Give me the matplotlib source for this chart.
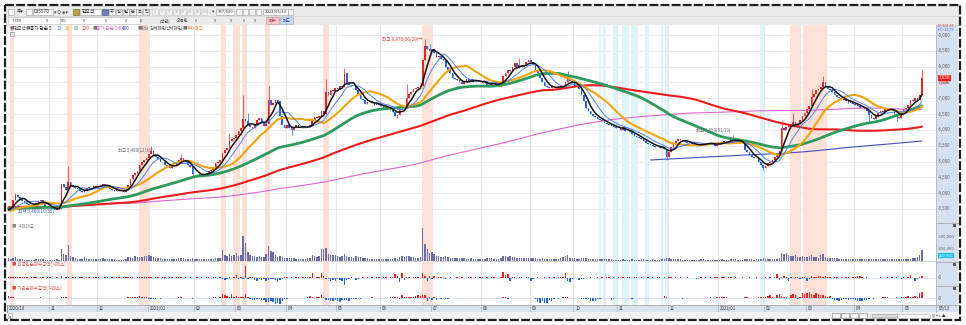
import numpy as np
import pandas as pd
import matplotlib
matplotlib.use("Agg")
import matplotlib.pyplot as plt
from matplotlib.patches import Rectangle

plt.rcParams['font.family'] = ['Noto Sans CJK KR', 'DejaVu Sans']

# ---------------- data ----------------
month_labels = ["2020/10", "11", "12", "2021/01", "02", "03", "04", "05", "06", "07",
                "08", "09", "10", "11", "12", "2022/01", "02", "03", "04", "05"]
month_days = [18, 21, 22, 20, 18, 22, 22, 19, 22, 22, 21, 19, 19, 22, 22, 20, 18, 21, 21, 9]
last_date = "05/13"

# closes before the first visible day (needed by the long moving averages)
pre_close = [
    3650,3680,3700,3720,3750,3730,3700,3690,3710,3740,3760,3780,3750,3720,3700,3680,3660,3640,3660,3690,
    3710,3730,3700,3680,3650,3630,3620,3640,3660,3700,3720,3740,3760,3730,3700,3690,3670,3650,3640,3660,
    3680,3700,3690,3670,3650,3640,3620,3600,3610,3630,3660,3690,3710,3730,3700,3680,3660,3650,3640,3660,
    3700,3720,3740,3760,3780,3750,3720,3700,3690,3680,3660,3640,3620,3610,3630,3650,3670,3690,3710,3700,
    3680,3660,3640,3630,3620,3640,3660,3680,3700,3690,3670,3650,3630,3610,3600,3620,3640,3660,3650,3640,
    3630,3620,3600,3590,3580,3600,3620,3640,3660,3650,3630,3610,3600,3590,3580,3570,3590,3610,3600,3590,
    3580,3570,3560,3580,3600,3620,3610,3590,3570,3550,3540,3560,3580,3600,3610,3590,3570,3560,3550,3540,
    3550,3570,3590,3600,3580,3560,3540,3530,3550,3570,3590,3600,3580,3560,3540,3520,3510,3530,3550,3560,
    3570,3580,3560,3540,3520,3510,3500,3520,3540,3560,3550,3530,3510,3490,3480,3500,3520,3510,3490,3470,
    3460,3450,3440,3430,3420,3440,3460,3450,3430,3420,3410,3430,3450,3440,3420,3410,3430,3450,3470,3500]

close = [
    3530,3600,3780,3950,3880,3820,3760,3700,3660,3640,3620,3650,3700,3760,3790,3680,3600,3560,
    3520,3500,3480,3530,3500,4300,4200,4100,4350,4250,4200,4150,4120,4080,4050,4060,4150,4200,4180,4220,4200,
    4220,4250,4280,4260,4240,4120,4100,4080,4100,4060,4080,4050,4100,4270,4450,4560,4650,4700,4900,4980,5050,5110,
    5250,5320,5200,5150,5080,5000,4980,4900,4850,4800,4850,4900,4950,5050,5120,5020,4980,4900,4820,4600,
    4620,4600,4580,4560,4600,4650,4700,4720,4760,4950,5000,5060,5270,5350,5430,5640,5700,5750,
    5850,5950,6060,6350,6280,6160,6100,6060,6200,6300,6380,6250,6110,6200,6950,6800,6850,6950,6900,6430,6150,6060,
    6150,6060,6000,6100,6150,6100,6080,6050,6100,6120,6160,6300,6400,6370,6430,6590,6500,7200,7110,7250,7220,7320,
    7300,7400,7350,7800,7450,7420,7400,7380,7250,7100,6980,6950,6820,6880,6900,6850,6800,6820,6780,
    6760,6700,6720,6680,6640,6560,6450,6480,6700,6720,6680,7000,7150,7200,7300,7320,7350,7400,8200,8650,8550,8500,
    8550,8420,8300,8350,8250,8200,8000,7900,7800,7650,7600,7580,7500,7450,7500,7600,7550,7600,7500,7580,7550,7500,
    7480,7550,7400,7350,7500,7520,7450,7400,7450,7700,7800,7900,7850,8000,8100,7950,8050,8000,8050,8150,8200,
    8150,8050,7900,7800,7650,7500,7400,7350,7320,7380,7350,7330,7380,7350,7400,7500,7600,7550,7480,
    7400,7350,7300,7100,6900,6700,6600,6500,6450,6420,6350,6300,6280,6220,6180,6150,6120,6100,6060,
    6050,6000,6080,5980,5950,5920,5880,5820,5780,5740,5700,5660,5600,5560,5530,5500,5470,5460,5440,5450,5400,5150,
    5300,5450,5580,5650,5700,5680,5650,5620,5600,5580,5550,5530,5500,5520,5560,5580,5560,5600,5570,5540,5500,5560,
    5600,5620,5640,5600,5650,5700,5720,5650,5620,5600,5580,5380,5300,5200,5150,5120,5100,5000,4900,4800,
    4850,4950,5000,5050,5150,5250,5320,6050,6000,6100,6200,6150,6250,6100,6200,6300,6450,6550,
    6650,6750,7050,7150,7250,7300,7350,7500,7400,7300,7250,7200,7100,7050,7000,6950,6980,6900,6850,6880,6820,
    6800,6750,6700,6680,6650,6600,6480,6380,6330,6450,6550,6600,6580,6650,6700,6680,6620,6500,6420,6380,6550,
    6650,6700,6800,6950,6900,7000,6950,7100,7650]

# visible wick extremes (day index -> price)
wick_high = {3: 4000, 26: 4850, 62: 5480, 75: 5250, 96: 5900, 102: 7110, 104: 6550, 113: 7380,
             138: 7600, 146: 7950, 173: 7450, 181: 8870, 183: 8700, 222: 8270, 243: 7850,
             315: 5850, 336: 6300, 341: 6550, 349: 7300, 354: 7700, 397: 7900}
wick_low = {1: 3460, 80: 4520, 123: 5850, 169: 6380, 286: 5060, 328: 4740, 374: 6270, 386: 6270}

# volume, thousand shares
volume = [
    60,40,70,90,50,40,35,30,30,25,25,30,35,45,50,35,30,30,
    25,25,30,35,30,260,150,120,350,110,80,60,50,45,40,90,60,50,45,50,40,
    45,50,55,45,40,40,35,35,30,30,30,30,40,80,90,70,100,90,95,85,100,110,
    120,100,80,70,60,55,50,50,45,40,40,45,50,60,70,55,50,45,45,70,
    50,45,40,40,40,45,50,45,50,70,60,60,240,120,100,150,110,130,
    180,110,120,540,390,200,130,110,100,90,100,90,80,150,325,210,200,120,90,110,80,70,
    70,60,60,55,50,50,50,45,50,60,70,130,110,90,110,270,260,280,150,140,130,120,
    110,90,100,160,110,90,80,70,100,90,80,70,60,60,50,50,45,50,45,
    45,45,40,45,40,45,60,50,90,100,80,110,100,90,80,70,70,80,720,380,270,180,
    200,150,110,100,90,90,100,80,70,70,60,60,60,55,55,50,50,55,50,50,45,45,
    45,50,60,55,60,50,45,45,55,100,110,90,100,80,90,70,70,60,60,65,60,
    60,55,60,50,50,55,50,45,45,45,40,45,50,60,90,110,120,70,60,
    55,50,45,60,70,60,50,45,40,40,40,35,35,35,40,35,35,30,30,
    30,30,35,30,30,30,35,30,30,30,35,40,30,30,30,35,30,30,30,35,45,70,
    60,50,45,40,35,35,30,30,30,30,30,30,30,30,35,35,30,30,30,30,30,30,
    30,35,30,30,30,35,40,35,30,30,30,50,40,35,35,30,35,40,45,60,
    50,45,40,40,45,50,60,180,150,170,120,110,100,130,80,90,100,80,
    90,100,120,90,80,70,130,150,80,70,60,60,55,55,50,50,45,45,45,40,40,
    40,40,40,45,40,40,45,50,50,45,40,40,40,40,40,40,40,45,40,40,45,
    40,40,50,40,70,55,90,120,250]

# foreign net buying (relative units)
foreign = [
    0.8,0.6,1.0,0.8,0.5,0.4,0.6,0.5,0.4,-0.3,0.3,0.4,0.5,-0.4,0.5,0.3,-0.3,0.4,
    0.3,-0.3,-0.4,0.3,-0.3,1.2,-0.5,0.8,0.6,-0.6,0.4,0.3,-0.4,0.3,0.5,-0.3,0.3,0.4,-0.3,0.3,0.3,
    0.3,-0.4,-0.3,0.3,0.2,-0.3,0.3,-0.3,0.2,0.3,-0.3,0.3,0.4,0.6,0.5,0.3,-0.4,0.5,0.6,0.8,0.5,0.6,
    0.8,0.5,-0.5,0.4,0.3,-0.4,0.3,0.5,-0.6,0.4,0.3,-0.3,0.4,0.5,0.6,-0.4,0.3,-0.3,0.4,-0.6,
    -0.4,0.3,-0.3,0.3,-0.4,0.3,0.3,-0.3,0.3,0.5,-0.4,0.4,-1.5,-2.0,-1.2,0.8,-0.8,0.6,
    3.0,-1.0,0.8,-1.5,11.5,-1.0,1.0,0.5,-2.0,-3.0,-1.5,-2.5,-1.0,-3.5,-2.0,-1.0,-1.5,-2.0,-4.0,-2.0,-1.0,0.5,
    0.4,-0.5,0.3,-0.4,0.3,0.5,-0.3,0.3,0.4,0.6,0.8,5.0,-0.6,1.0,0.8,5.0,2.0,-1.5,-1.0,-3.0,-2.0,-3.5,
    -1.5,-2.0,-3.0,-7.0,-2.5,-1.0,0.5,-0.8,-2.0,-1.5,-0.6,0.4,-0.5,0.6,-0.4,0.5,-0.3,0.6,0.5,
    -0.5,0.4,0.3,-0.5,0.6,0.8,4.0,2.0,-4.0,5.0,-2.0,0.6,1.0,-0.8,0.7,0.5,0.8,-0.5,5.0,1.5,-3.0,2.0,
    -1.0,1.5,-0.8,0.6,0.5,-0.8,-1.5,-0.6,0.4,-0.5,-0.4,0.3,-0.6,0.4,-0.3,-0.5,0.4,0.3,-0.4,0.3,-0.3,0.3,
    0.4,-0.3,0.3,-0.5,0.4,0.3,-0.3,-0.4,0.5,6.0,3.0,4.0,-3.0,0.8,0.6,-0.5,0.5,0.4,-0.6,0.5,0.6,
    -3.0,-1.0,-0.6,0.4,-0.8,-0.5,0.3,-0.4,0.3,-0.5,0.4,-0.3,0.5,0.8,1.0,5.0,-3.0,-4.0,-1.0,
    -0.8,-0.6,-2.0,-1.5,-1.0,-0.5,-0.6,0.4,-0.4,-0.3,0.3,-0.3,0.3,-0.4,0.3,0.4,-0.3,0.3,-0.4,
    0.3,-0.3,0.4,-0.4,0.3,0.5,-0.3,0.3,0.4,-0.5,0.3,-0.4,-0.6,0.3,-0.4,0.3,-0.3,0.3,0.4,-0.5,0.6,-0.8,
    0.6,0.5,-0.4,0.3,-0.3,0.4,-0.5,-0.4,0.3,-0.4,-0.6,-0.8,-1.0,-0.5,0.3,-0.3,0.4,-0.3,0.3,-0.4,0.3,0.4,
    -0.3,0.4,0.3,-0.4,0.5,0.6,-0.3,0.3,-0.4,-0.3,0.3,-0.5,-0.6,0.3,-0.4,-0.5,0.3,-0.4,-0.5,-0.3,
    0.4,-0.5,0.3,-0.3,0.5,4.0,-2.5,1.0,2.0,0.8,-3.0,0.5,-0.6,0.4,0.8,-1.0,0.5,0.6,
    -3.0,-1.0,2.0,1.0,0.8,2.0,1.5,0.8,1.2,0.6,0.5,-0.4,0.6,0.4,-0.5,0.4,-0.3,0.5,0.6,-0.4,0.3,
    0.4,2.0,1.8,0.6,-0.5,0.4,-0.6,-0.8,-0.5,-0.6,-0.4,0.3,-0.5,-0.4,0.3,-0.4,0.3,-0.3,0.4,-0.5,-1.5,
    0.5,-0.6,0.8,3.0,-0.8,-3.0,-1.0,1.0,2.0]

# institutional net buying (relative units)
inst = [
    2.0,1.5,1.0,0.5,0.3,-0.3,0.3,0.4,-0.3,-0.3,0.3,0.5,0.4,-0.3,0.6,0.3,-0.4,0.3,
    -0.3,0.3,-0.3,0.3,0.5,0.8,0.6,1.0,0.4,-0.4,0.3,0.5,-0.3,0.3,0.4,-0.3,0.3,0.4,0.3,-0.3,0.3,
    0.3,-0.3,0.4,0.3,-0.3,0.3,0.5,-0.3,0.3,0.4,0.3,0.5,0.4,1.0,0.8,1.5,0.6,1.0,2.0,1.5,1.0,0.8,
    -1.0,-0.8,-1.2,-0.6,0.4,-0.5,0.3,0.4,-0.4,0.3,-0.3,0.5,0.4,0.6,0.8,-0.4,0.3,-0.3,0.4,-0.5,
    0.3,-0.4,0.3,0.4,-0.3,0.3,0.5,0.4,0.6,0.8,0.5,1.0,4.0,3.5,2.0,1.0,4.0,1.5,
    2.0,0.8,1.5,1.0,4.0,1.5,-1.0,-2.0,-1.5,-0.8,-0.6,-1.5,-2.0,-4.0,-3.5,-3.0,-4.0,-6.0,-5.0,-6.0,-3.0,-1.0,
    -0.5,0.4,-0.3,0.3,0.4,-0.3,0.3,0.5,0.4,0.6,2.0,1.0,0.5,0.8,0.6,3.0,1.0,-1.5,-2.0,-3.0,-2.5,-2.0,
    -3.0,-4.0,-2.0,-1.5,-2.0,-3.0,-1.0,-0.5,-0.8,0.4,-0.5,0.5,0.3,-0.4,0.4,0.6,0.5,-0.4,0.3,
    0.4,0.5,-0.3,0.4,0.6,0.8,1.5,1.0,-0.8,3.0,1.0,0.8,1.0,1.2,0.6,2.5,3.0,2.0,3.0,3.5,-3.0,1.0,
    -2.0,0.6,-1.5,0.5,-0.8,0.4,-0.6,-0.5,0.3,0.5,-0.3,0.4,0.3,-0.4,0.5,0.3,-0.3,0.4,0.3,0.5,-0.4,0.3,
    0.3,-0.3,0.4,0.5,-0.4,0.3,0.4,-0.3,0.3,0.8,0.6,-0.5,0.4,0.3,0.5,0.4,-0.3,0.3,0.4,0.3,-0.4,
    0.3,-0.4,-0.6,-4.0,-5.0,-3.0,-4.5,-5.0,-2.0,-3.0,-1.0,0.4,-0.5,0.3,0.6,1.0,0.8,-0.4,0.3,
    0.5,-0.4,0.3,-0.5,-1.0,-0.8,-0.6,-3.0,-2.5,-3.0,-1.0,-0.5,-0.4,0.3,-0.3,-0.4,-2.0,-0.5,-0.3,
    -0.3,0.3,-0.4,-0.3,0.3,-0.4,-0.5,0.3,-0.3,-0.4,0.3,-0.3,0.4,-0.3,0.3,-0.4,0.3,-0.3,0.4,0.5,2.0,0.6,
    0.5,0.4,-0.3,0.4,0.3,-0.3,-0.6,0.3,-0.4,0.3,0.4,-0.3,0.3,0.5,0.4,-0.3,0.4,0.3,0.6,0.5,0.4,0.6,
    1.0,0.8,1.2,0.6,0.5,0.4,-0.3,0.3,0.4,-0.3,0.3,0.6,0.8,0.5,0.4,-0.3,0.3,0.6,0.8,1.0,
    1.5,2.5,3.0,1.0,0.5,3.5,4.0,2.0,0.8,1.0,0.5,3.0,4.0,3.0,-0.8,1.0,5.0,4.5,
    5.0,6.0,4.5,3.0,5.0,4.0,3.0,3.5,2.0,1.0,2.0,-1.0,-2.0,-1.5,-2.5,-2.0,-1.0,-0.8,-1.5,-1.0,-0.6,
    -2.0,-3.0,-2.5,-3.0,-2.0,-1.5,-0.6,0.4,-0.5,0.3,-0.4,0.5,0.6,1.0,0.8,0.5,0.4,0.3,0.6,0.5,0.8,
    0.6,1.0,2.0,0.8,1.5,2.5,1.0,5.0,6.5]

# signal day ranges (first day, last day)
warn_days = [(1, 2), (26, 27), (57, 61), (93, 94), (98, 98), (99, 100), (102, 103), (112, 113),
             (137, 139), (180, 184), (340, 344), (346, 355)]
rsi_days = [(257, 257), (259, 259), (263, 264), (267, 269), (271, 273), (277, 278), (284, 284),
            (286, 286), (327, 328)]

ma_periods = [5, 10, 20, 60, 120, 240, 480]
ma_colors = ['#111111', '#4c82ee', '#f0a410', '#2f9a5e', '#ee1b1b', '#e063d6', '#3f4fbf']
ma_widths = [1.1, 0.7, 1.5, 2.0, 1.5, 0.8, 0.8]
price_ticks = [3500, 4000, 4500, 5000, 5500, 6000, 6500, 7000, 7500, 8000, 8500, 9000]
vol_ticks = [250, 500]

assert len(close) == sum(month_days) == len(volume) == len(foreign) == len(inst), \
    (len(close), len(volume), len(foreign), len(inst))

n = len(close)
idx = np.arange(n)
full = pd.Series(pre_close + close, dtype=float)
npre = len(pre_close)
opens = np.array(full.shift(1).iloc[npre:])
closes = np.array(close, dtype=float)
highs = np.maximum(opens, closes)
lows = np.minimum(opens, closes)
for k, v in wick_high.items():
    highs[k] = max(highs[k], v)
for k, v in wick_low.items():
    lows[k] = min(lows[k], v)
month_start = np.concatenate([[0], np.cumsum(month_days)[:-1]])

# ---------------- figure ----------------
W, H = 966, 325
fig = plt.figure(figsize=(W / 100, H / 100), dpi=100)
fig.patch.set_facecolor('white')


def px_axes(x0, y0, x1, y1, z=1):
    a = fig.add_axes([x0 / W, 1 - y1 / H, (x1 - x0) / W, (y1 - y0) / H])
    a.set_zorder(z)
    return a


bg = px_axes(0, 0, W, H, z=0)
bg.set_xlim(0, W)
bg.set_ylim(H, 0)
bg.axis('off')

# toolbar
bg.add_patch(Rectangle((6, 6), 954, 19, fc='#ebebeb', ec='none'))
bg.plot([6, 960], [16.3, 16.3], color='#d4d4d4', lw=0.5)
bg.plot([6, 960], [24.6, 24.6], color='#c8c8c8', lw=0.6)
tb_font = 3.4


def box(x, y, w, h, fc='white', ec='#9a9a9a', lw=0.4):
    bg.add_patch(Rectangle((x, y), w, h, fc=fc, ec=ec, lw=lw))


box(8, 8.5, 6, 6)
bg.text(17, 11.8, "주▾", fontsize=tb_font, va='center', color='#333')
box(26, 8.5, 6, 6, fc='#f5f5f5')
box(33, 8.5, 20, 6.5)
bg.text(34, 11.8, "035570", fontsize=tb_font, va='center', color='#222')
bg.text(54, 11.8, "▾ Q ◈▾", fontsize=tb_font, va='center', color='#444')
box(73, 8.5, 6, 6.5, fc='#b8a640', ec='#6a5a10')
box(80, 8.5, 21, 6.5)
bg.text(81.5, 11.8, "현모션", fontsize=tb_font, va='center', color='#222')
box(102, 8.5, 6, 6.5, fc='#6b7fa8', ec='#3b4d78')
for j, t in enumerate(["주", "일", "월", "분", "초", "틱"]):
    box(109 + j * 6.8, 8.5, 6.2, 6.5, fc='#f7f7f7')
    bg.text(112.1 + j * 6.8, 11.8, t, fontsize=3.0, va='center', ha='center', color='#333')
for j, t in enumerate(["1", "3", "5", "10", "20", "30", "60", "120"]):
    box(152 + j * 7.0, 8.5, 6.4, 6.5, fc='#f0f0f0', ec='#c4c4c4')
    bg.text(155.2 + j * 7.0, 11.8, t, fontsize=2.6, va='center', ha='center', color='#aaaaaa')
bg.text(212, 11.8, "▾", fontsize=tb_font, va='center', color='#444')
box(216, 8.5, 18, 6.5)
bg.text(218, 11.8, "337/500", fontsize=3.0, va='center', color='#333')
for j in range(4):
    box(236 + j * 6.5, 8.5, 5.8, 6.5, fc='#f3f3f3')
box(263, 8.5, 25, 6.5)
bg.text(264.5, 11.8, "2022/05/13", fontsize=3.0, va='center', color='#222')
box(288, 8.5, 5, 6.5, fc='#f3f3f3')

# toolbar row 2
row2 = [(12, "7,650"), (46, "0"), (61, "0%"), (83, "0"), (105, "0"), (125, "0"), (140, "0"),
        (160, "(백만)"), (177, "외국인"), (195, "0"), (214, "0"), (230, "0"), (243, "0"), (254, "0")]
box(8, 17.2, 52, 6.5, fc='white', ec='#bdbdbd')
box(60, 17.2, 80, 6.5, fc='white', ec='#bdbdbd')
for x, t in row2:
    bg.text(x, 20.6, t, fontsize=3.0, va='center', color='#333')
box(266, 17.2, 13, 6.5, fc='#f6c8cc', ec='#c98b90')
bg.text(272.5, 20.6, "매수", fontsize=3.0, va='center', ha='center', color='#a02030')
box(280, 17.2, 13, 6.5, fc='#c8daf2', ec='#8aa4cc')
bg.text(286.5, 20.6, "매도", fontsize=3.0, va='center', ha='center', color='#2040a0')

# right scale panel, date band, bottom strip
bg.add_patch(Rectangle((936, 25), 22, 287, fc='#d5e1ef', ec='none'))
bg.plot([936, 936], [25, 312], color='#a9b6c8', lw=0.6)
bg.add_patch(Rectangle((7, 305), 929, 7, fc='#d9e3ee', ec='none'))
bg.add_patch(Rectangle((7, 312), 951, 7, fc='#f3f3f3', ec='none'))
box(8, 313, 4, 5, fc='#fafafa')
bg.text(8.6, 315.6, "◂", fontsize=2.6, va='center', color='#333')
box(870, 313.5, 60, 4.5, fc='#ffffff', ec='#b0b0b0')
box(872, 314.2, 25, 3, fc='#dcdcdc', ec='#999')
for j in range(4):
    box(832 + j * 9, 313, 8, 5, fc='#f8f8f8', ec='#777')
bg.text(932, 315.6, "Q − + ▲", fontsize=2.8, va='center', color='#333')
bg.plot([7, 7], [25, 312], color='#777', lw=0.6)

xlo = -0.65
xhi = xlo + 929 / 2.301
PX0, PX1 = 7, 936


def style_panel(a, ylo, yhi):
    a.set_xlim(xlo, xhi)
    a.set_ylim(ylo, yhi)
    a.set_xticks([])
    a.set_yticks([])
    for s in a.spines.values():
        s.set_visible(False)
    a.set_facecolor('white')
    for ms in month_start[1:]:
        a.axvline(ms - 0.5, color='#e2e2e2', lw=0.6, zorder=0)
    for a0, a1 in warn_days:
        a.axvspan(a0 - 0.5, a1 + 0.5, color='#fde1d9', lw=0, zorder=0.5)
    for a0, a1 in rsi_days:
        a.axvspan(a0 - 0.5, a1 + 0.5, color='#dff3fb', lw=0, zorder=0.5)


# ---------------- price panel ----------------
P_TOP, P_BOT = 9000 + 10 * 31.61, 9000 - 188 * 31.61
ax = px_axes(PX0, 25, PX1, 223)
style_panel(ax, P_BOT, P_TOP)
for p in price_ticks:
    ax.axhline(p, color='#e9e9e9', lw=0.6, zorder=0.2)

up = closes >= opens
body_lo = np.minimum(opens, closes)
body_h = np.maximum(np.abs(closes - opens), 14)
cu, cd = '#e8231f', '#2563dc'
ax.vlines(idx[up], lows[up], highs[up], color=cu, lw=0.5, zorder=2)
ax.vlines(idx[~up], lows[~up], highs[~up], color=cd, lw=0.5, zorder=2)
ax.bar(idx[up], body_h[up], bottom=body_lo[up], width=0.72, color=cu, lw=0, zorder=2)
ax.bar(idx[~up], body_h[~up], bottom=body_lo[~up], width=0.72, color=cd, lw=0, zorder=2)

order = [6, 5, 4, 3, 2, 1, 0]
for k in order:
    ma = full.rolling(ma_periods[k]).mean().iloc[npre:].to_numpy()
    ax.plot(idx, ma, color=ma_colors[k], lw=ma_widths[k], zorder=3 + (6 - k) * 0.1,
            solid_capstyle='round')

# extreme labels
imax = int(np.argmax(highs))
ax.annotate(f"최고 {int(highs[imax]):,}(06/29)", xy=(imax - 1, highs[imax]), xytext=(-3, 0),
            textcoords='offset points', fontsize=3.3, color='#e03a3a', ha='right', va='center',
            zorder=6)
ax.annotate("→", xy=(imax - 1, highs[imax]), fontsize=3.3, color='#e03a3a', ha='right',
            va='center', zorder=6)
ilow0 = int(np.argmin(lows[:60]))
ax.annotate(f"최저 {int(lows[ilow0]):,}(10/30)", xy=(ilow0 + 3, lows[ilow0]), xytext=(0, -1),
            textcoords='offset points', fontsize=3.3, color='#3a5ad8', ha='left', va='center',
            zorder=6)
ih1 = 62
ax.annotate(f"최고 {int(highs[ih1]):,}(12/30)", xy=(ih1, highs[ih1]), xytext=(1, -3),
            textcoords='offset points', fontsize=3.1, color='#666666', ha='right', va='center',
            zorder=6)
ih2 = 315
ax.annotate(f"최고 {int(highs[ih2]):,}(01/19)", xy=(ih2, highs[ih2]), xytext=(-2, 3),
            textcoords='offset points', fontsize=3.1, color='#666666', ha='right', va='center',
            zorder=6)

# legend line
leg_y = P_TOP - 3.2 * 31.61
items = [(10, "■", '#7a7a7a'), (13.5, "현모션", '#555555'), (26, "■", '#7a7a7a'),
         (29.5, "종가 단순 5", '#222222'), (57, "10", ma_colors[1]), (65, "20", ma_colors[2]),
         (73.5, "60", ma_colors[3]), (82, "120", ma_colors[4]), (93, "■", '#7a7a7a'),
         (96.5, "종가 단순 240", ma_colors[5]), (122, "480", ma_colors[6]),
         (138, "■", '#7a7a7a'), (141.5, "RSI", '#555555'), (150, "강세패턴", '#555555'),
         (166, "약세패턴", '#555555'), (183, "■", '#7a7a7a'), (186.5, "투자경고", '#f08a4a')]
for xp, t, c in items:
    ax.text((xp - PX0) / 2.301 + xlo, leg_y, t, fontsize=3.3, color=c, va='center', zorder=6)
ax.add_patch(Rectangle(((10 - PX0) / 2.301 + xlo, P_TOP - 10.5 * 31.61), 4 / 2.301, 4 * 31.61,
                       fc='#e6e6e6', ec='#888', lw=0.4, zorder=6))

# right scale labels
yt = ax.get_yaxis_transform()
for p in price_ticks:
    ax.text(1.002, p, f"-{p:,}", transform=yt, fontsize=3.2, color='#5a5a5a', va='center',
            ha='left', clip_on=False)
ax.text(1.002, P_TOP - 1.3 * 31.61, "LC:121.61", transform=yt, fontsize=2.7, color='#e03030',
        va='center', clip_on=False)
ax.text(1.002, P_TOP - 5.0 * 31.61, "HC:-13.79", transform=yt, fontsize=2.7, color='#3060e0',
        va='center', clip_on=False)
last = closes[-1]
ax.text(1.003, last, f"{int(last):,}", transform=yt, fontsize=3.3, color='white', va='center',
        ha='left', clip_on=False, zorder=7,
        bbox=dict(boxstyle='square,pad=0.15', fc='#ee1c1c', ec='none'))
ax.text(1.003, last - 4.5 * 31.61, f"{int(highs[-1] - 300):,}", transform=yt, fontsize=2.8,
        color='#e02020', va='center', ha='left', clip_on=False, zorder=7)

# ---------------- volume panel ----------------
PX_PER_K = 11.5 / 250
av = px_axes(PX0, 223, PX1, 262)
style_panel(av, -1 / PX_PER_K, 38 / PX_PER_K)
av.axhline(0, color='#c0c0c0', lw=0.5, zorder=0.4)
av.bar(idx, volume, width=0.62, color='#6c6ca6', lw=0, zorder=2)
av.text((12 - PX0) / 2.301 + xlo, 34.5 / PX_PER_K, "■ 거래대금", fontsize=3.2, color='#888',
        va='center', zorder=6)
vt = av.get_yaxis_transform()
for v in vol_ticks:
    av.text(1.002, v + 1.5 / PX_PER_K, f"-{v * 1000:,}", transform=vt, fontsize=3.0,
            color='#5a5a5a', va='center', clip_on=False)
av.text(1.003, 5.5 / PX_PER_K, f"{volume[-1] * 1000:,}", transform=vt, fontsize=2.8,
        color='white', va='center', clip_on=False,
        bbox=dict(boxstyle='square,pad=0.12', fc='#17c0f0', ec='none'))

# ---------------- foreign / institution panels ----------------
for (y0, y1, lo, hi, data, title) in [
        (262, 286, -8.5, 15.5, foreign, "외국인순매수금액(거래소)"),
        (286, 305, -7.0, 12.0, inst, "기관순매수금액(거래소)")]:
    a = px_axes(PX0, y0, PX1, y1)
    style_panel(a, lo, hi)
    d = np.array(data)
    a.bar(idx, d, width=0.62, color=np.where(d >= 0, '#e8231f', '#2563dc'), lw=0, zorder=2)
    a.axhline(0, color='#9bb8e8', lw=0.4, ls=(0, (2, 1)), zorder=1)
    a.text((12 - PX0) / 2.301 + xlo, hi - 2.2, "■ " + title, fontsize=3.2, color='#e05050',
           va='center', zorder=6)
    a.text(1.002, 0, "-0", transform=a.get_yaxis_transform(), fontsize=3.2, color='#5a5a5a',
           va='center', clip_on=False)

# panel separators and small icons
for yy in [223, 262, 286, 305]:
    bg.plot([7, 958], [yy, yy], color='#a8a8a8', lw=0.6, zorder=3)
for yy in [225.5, 264.5, 288.5]:
    bg.add_patch(Rectangle((953, yy - 1.5), 3, 3, fc='#555', ec='none', zorder=4))

# ---------------- date axis ----------------
ad = px_axes(PX0, 305, PX1, 312)
ad.set_xlim(xlo, xhi)
ad.set_ylim(0, 1)
ad.axis('off')
for ms, lab in zip(month_start, month_labels):
    ad.plot([ms - 0.5, ms - 0.5], [0, 1], color='#a0aab8', lw=0.4)
    ad.text(ms + 0.3, 0.45, lab, fontsize=3.1, color='#333', va='center', ha='left')
bg.text(939, 308.5, last_date, fontsize=3.1, color='#333', va='center')

# ---------------- outer frame ----------------
fr = px_axes(0, 0, W, H, z=10)
fr.set_xlim(0, W)
fr.set_ylim(H, 0)
fr.axis('off')
fr.patch.set_alpha(0)
fr.add_patch(Rectangle((4.5, 4.5), 955.5, 315.5, fill=False, ec='#1e1e1e', lw=1.6,
                       ls=(0, (4, 1))))

fig.savefig("out.png", dpi=100, facecolor='white')
